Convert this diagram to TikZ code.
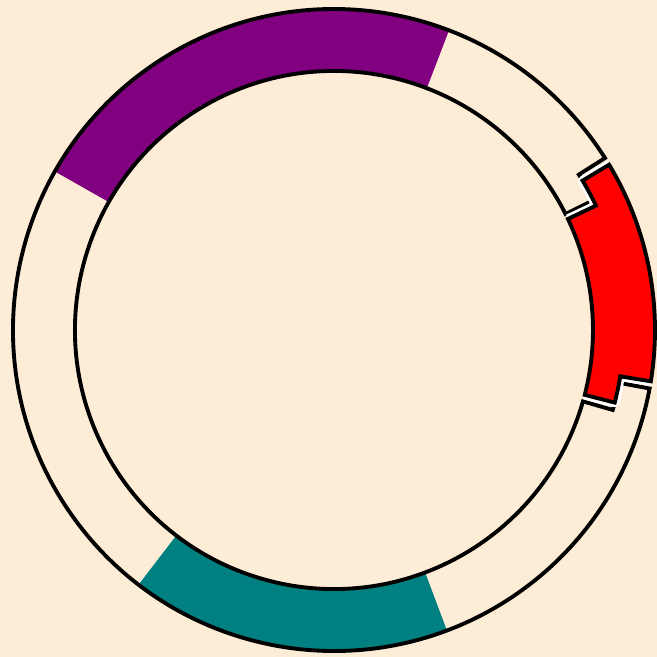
\documentclass[tikz,border=0pt]{standalone}
\usepackage{xcolor}
\definecolor{paper}{RGB}{253,236,214}
\definecolor{plum}{RGB}{128,0,128}
\definecolor{tealband}{RGB}{0,128,128}

\begin{document}
\begin{tikzpicture}[
		ring/.style={draw=black, line width=1.1pt, line join=miter},
		halo/.style={draw=white, line width=2.6pt, line join=round}
		]
		\def\rOut{3.21}
		\def\rIn{2.59}
		\def\rMid{2.90}
		
		% Page and background
		\useasboundingbox (-3.34,-3.27) rectangle (3.23,3.30);
		\fill[paper] (-3.34,-3.27) rectangle (3.23,3.30);
		
		% The ring, open where the red piece was taken out
		\def\ringpath{(32.4:\rOut) arc (32.4:349.5:\rOut) -- (349.5:\rMid) arc (349.5:344:\rMid) -- (344:\rIn) arc (344:26.6:\rIn) -- (26.6:\rMid) arc (26.6:32.4:\rMid) -- cycle}
		
		% Coloured bands on the ring
		\fill[plum] (69:\rOut) arc (69:150.4:\rOut) -- (150.4:\rIn) arc (150.4:69:\rIn) -- cycle;
		\fill[tealband] (232.5:\rOut) arc (232.5:290.6:\rOut) -- (290.6:\rIn) arc (290.6:232.5:\rIn) -- cycle;
		
		\draw[ring] \ringpath;
		
		% The red piece with its stepped ends
		\def\redpath{(-9.2:\rOut) arc (-9.2:31:\rOut) -- (31:\rMid) arc (31:25.4:\rMid) -- (25.4:\rIn) arc (25.4:-14.5:\rIn) -- (-14.5:\rMid) arc (-14.5:-9.2:\rMid) -- cycle}
		\draw[halo] (31:\rOut) -- (31:\rMid) arc (31:25.4:\rMid) -- (25.4:\rIn);
		\draw[halo] (-9.2:\rOut) -- (-9.2:\rMid) arc (-9.2:-14.5:\rMid) -- (-14.5:\rIn);
		\draw[ring, fill=red] \redpath;
		
	\end{tikzpicture}
\end{document}
